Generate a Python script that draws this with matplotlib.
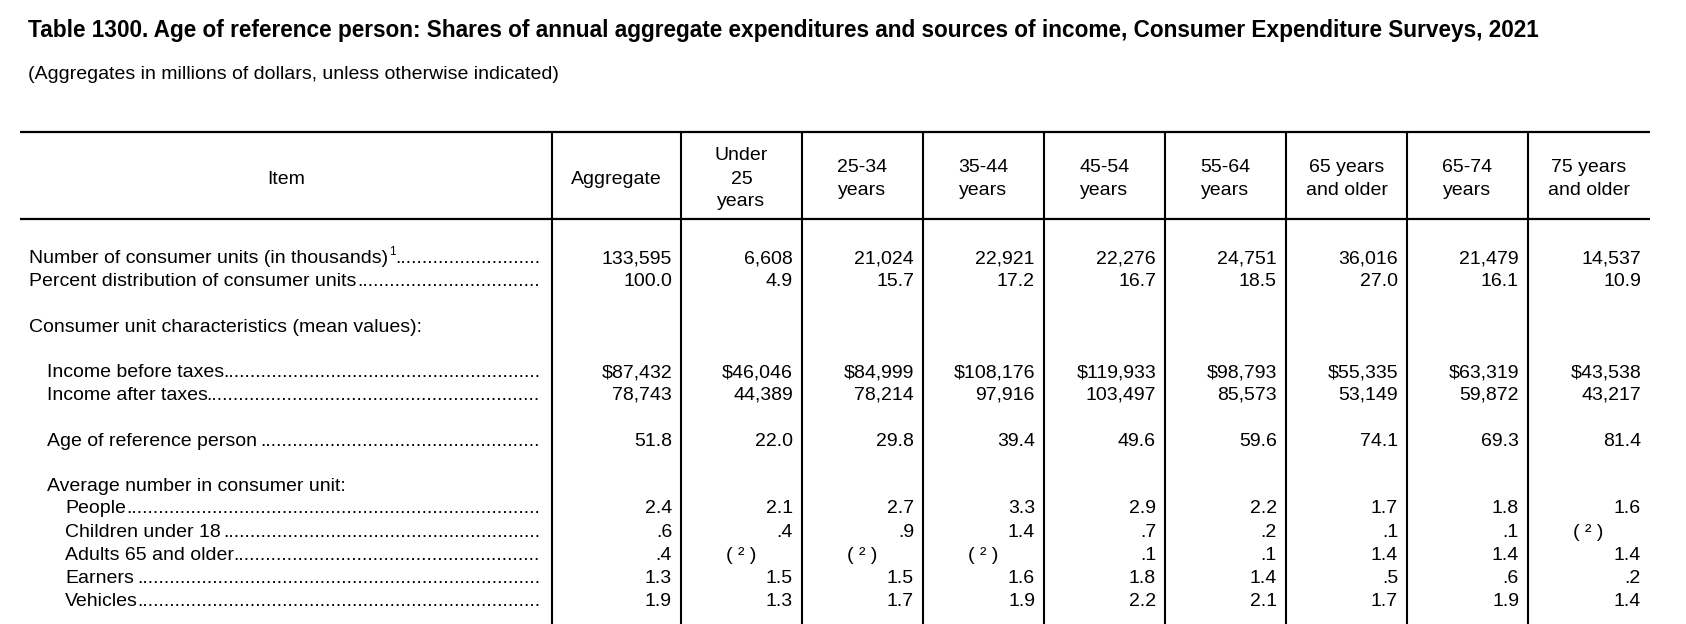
import matplotlib
matplotlib.use("Agg")
import matplotlib.pyplot as plt

plt.rcParams['font.family'] = ['Liberation Sans', 'DejaVu Sans']

# --- table content ---
title = ("Table 1300. Age of reference person: Shares of annual aggregate expenditures "
         "and sources of income, Consumer Expenditure Surveys, 2021")
subtitle = "(Aggregates in millions of dollars, unless otherwise indicated)"

col_headers = [["Aggregate"], ["Under", "25", "years"], ["25-34", "years"],
               ["35-44", "years"], ["45-54", "years"], ["55-64", "years"],
               ["65 years", "and older"], ["65-74", "years"], ["75 years", "and older"]]

consumer_units = [133595, 6608, 21024, 22921, 22276, 24751, 36016, 21479, 14537]
percent_dist = [100.0, 4.9, 15.7, 17.2, 16.7, 18.5, 27.0, 16.1, 10.9]
income_before = [87432, 46046, 84999, 108176, 119933, 98793, 55335, 63319, 43538]
income_after = [78743, 44389, 78214, 97916, 103497, 85573, 53149, 59872, 43217]
age_ref = [51.8, 22.0, 29.8, 39.4, 49.6, 59.6, 74.1, 69.3, 81.4]
people = [2.4, 2.1, 2.7, 3.3, 2.9, 2.2, 1.7, 1.8, 1.6]
children = [0.6, 0.4, 0.9, 1.4, 0.7, 0.2, 0.1, 0.1, None]
adults65 = [0.4, None, None, None, 0.1, 0.1, 1.4, 1.4, 1.4]
earners = [1.3, 1.5, 1.5, 1.6, 1.8, 1.4, 0.5, 0.6, 0.2]
vehicles = [1.9, 1.3, 1.7, 1.9, 2.2, 2.1, 1.7, 1.9, 1.4]


def fmt_int(v):
    return f"{v:,}"


def fmt_dollar(v):
    return f"${v:,}"


def fmt_dec(v):
    if v is None:
        return None
    s = f"{v:.1f}"
    if s.startswith("0."):
        s = s[1:]
    return s


# (label, indent level, values, formatter, baseline y, superscript)
rows = [
    ("Number of consumer units (in thousands)", 0, consumer_units, fmt_int, 263, "1"),
    ("Percent distribution of consumer units", 0, percent_dist, fmt_dec, 285.5, None),
    ("Consumer unit characteristics (mean values):", 0, None, None, 331.7, None),
    ("Income before taxes", 1, income_before, fmt_dollar, 377.3, None),
    ("Income after taxes", 1, income_after, fmt_int, 400, None),
    ("Age of reference person", 1, age_ref, fmt_dec, 445.7, None),
    ("Average number in consumer unit:", 1, None, None, 491, None),
    ("People", 2, people, fmt_dec, 513.3, None),
    ("Children under 18", 2, children, fmt_dec, 536.7, None),
    ("Adults 65 and older", 2, adults65, fmt_dec, 560, None),
    ("Earners", 2, earners, fmt_dec, 582.7, None),
    ("Vehicles", 2, vehicles, fmt_dec, 606, None),
]

# --- layout (pixel coordinates) ---
W, H = 1686, 624
fs = 14.0
col_edges = [552, 681, 802, 923, 1044, 1165, 1286, 1407, 1528, 1650]
indent_x = [29, 47, 65]
dots_end = 540
table_left, table_right = 20, 1650
top_y, head_y = 132, 219

fig = plt.figure(figsize=(W / 100, H / 100), dpi=100)
ax = fig.add_axes([0, 0, 1, 1])
ax.set_xlim(0, W)
ax.set_ylim(H, 0)
ax.axis('off')
renderer = fig.canvas.get_renderer()

# title, fitted to its width in the reference
t = ax.text(28, 37.5, title, fontsize=15, fontweight='bold', va='baseline')
w = t.get_window_extent(renderer).width
t.set_fontsize(15 * 1526 / w)

ax.text(28, 79, subtitle, fontsize=fs, va='baseline')

# rules
ax.plot([table_left, table_right], [top_y, top_y], color='black', lw=1.6, solid_capstyle='butt')
ax.plot([table_left, table_right], [head_y, head_y], color='black', lw=1.6, solid_capstyle='butt')
for x in col_edges[:-1]:
    ax.plot([x, x], [top_y, H], color='black', lw=1.5, solid_capstyle='butt')

# header
ax.text((table_left + col_edges[0]) / 2, 183.5, "Item", fontsize=fs, ha='center', va='baseline')
for i, lines in enumerate(col_headers):
    cx = (col_edges[i] + col_edges[i + 1]) / 2
    if len(lines) == 1:
        ys = [183.5]
    elif len(lines) == 2:
        ys = [172, 195]
    else:
        ys = [160.5, 183.5, 206.5]
    for y, s in zip(ys, lines):
        ax.text(cx, y, s, fontsize=fs, ha='center', va='baseline')

# dot width
dt = ax.text(0, -100, "." * 20, fontsize=fs)
dot_w = dt.get_window_extent(renderer).width / 20
dt.remove()

for label, lvl, vals, fmt, y, sup in rows:
    lt = ax.text(indent_x[lvl], y, label, fontsize=fs, va='baseline')
    if vals is None:
        continue
    x_end = lt.get_window_extent(renderer).x1
    if sup:
        st = ax.text(x_end + 1, y - 8, sup, fontsize=8.5, va='baseline')
        x_end = st.get_window_extent(renderer).x1
    n = round((dots_end - x_end - 1) / dot_w)
    ax.text(dots_end, y, "." * n, fontsize=fs, ha='right', va='baseline')
    for i, v in enumerate(vals):
        s = fmt(v) if v is not None else None
        if s is None:
            ax.text(col_edges[i] + 45, y, "( \u00b2 )", fontsize=fs, ha='left', va='baseline')
        else:
            ax.text(col_edges[i + 1] - 9, y, s, fontsize=fs, ha='right', va='baseline')

fig.savefig("out.png", dpi=100)
